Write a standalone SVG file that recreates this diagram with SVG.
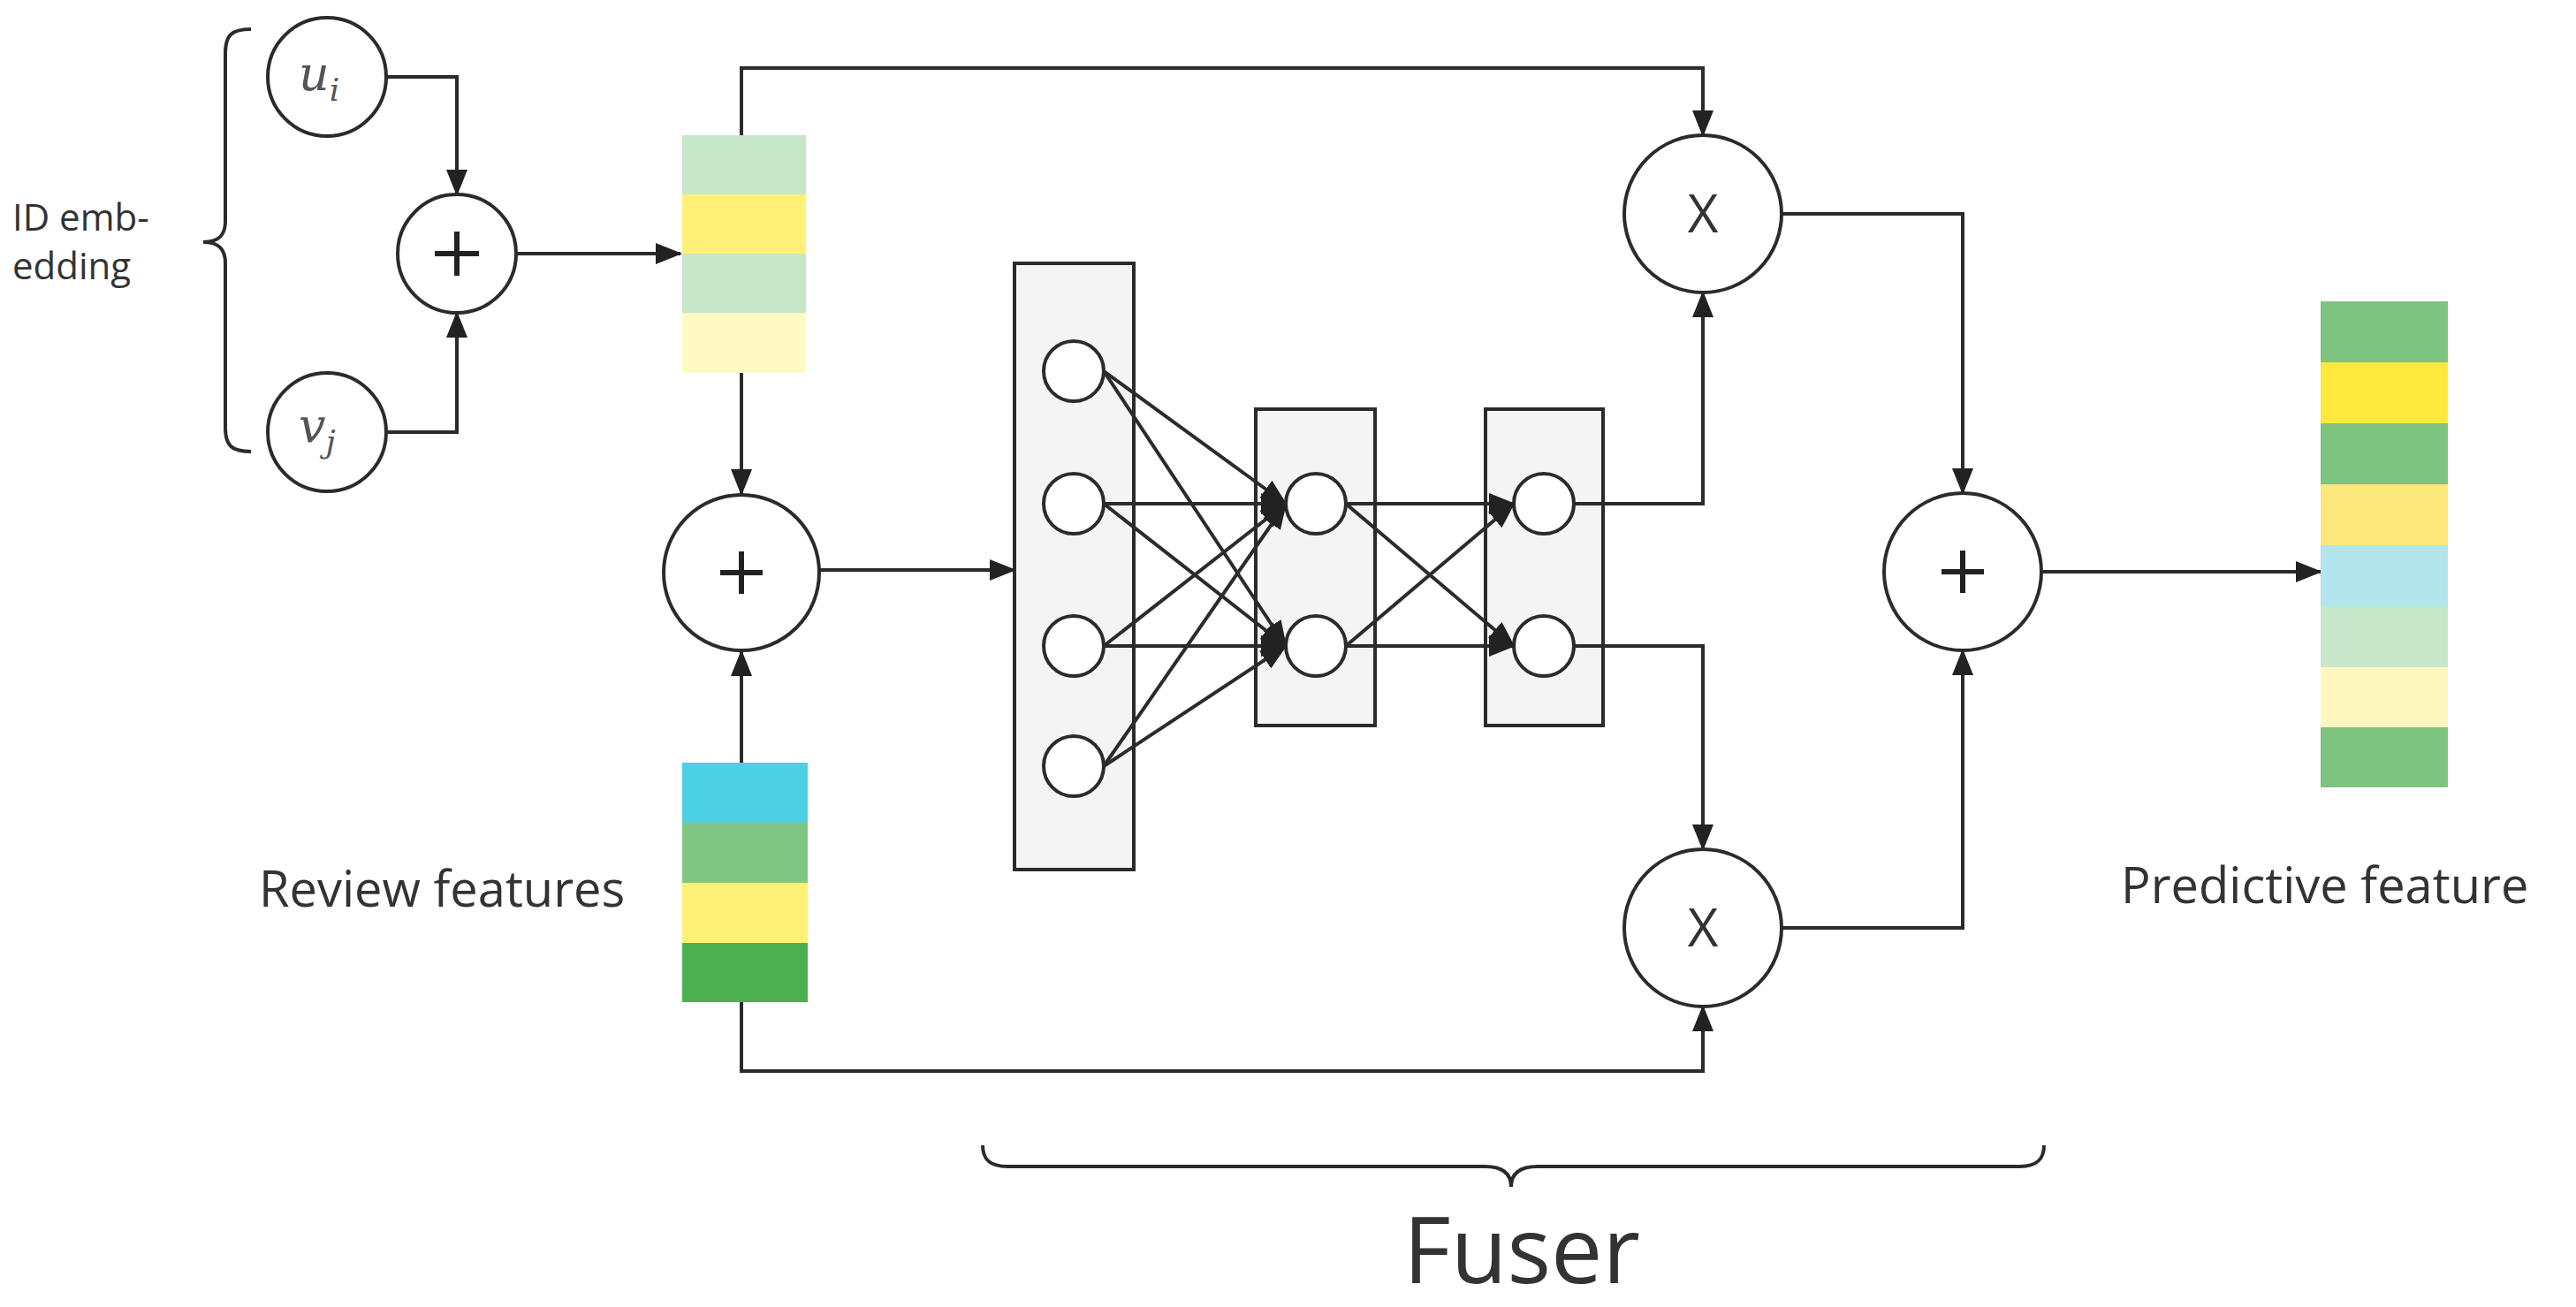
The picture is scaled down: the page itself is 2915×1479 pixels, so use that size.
<svg xmlns="http://www.w3.org/2000/svg" width="2915" height="1479" viewBox="0 0 2915 1479">
<style>
.n{fill:#fff;stroke:#2b2b2b;stroke-width:4}
.box{fill:#f4f4f4;stroke:#2b2b2b;stroke-width:4}
.c{fill:none;stroke:#2b2b2b;stroke-width:4}
.p{stroke:#222;stroke-width:6}
.t{font-family:"Open Sans","Noto Sans",sans-serif;fill:#333}
.m{font-family:"DejaVu Serif","Liberation Serif",serif;font-style:italic;fill:#555}
</style>
<defs>
<marker id="a" markerUnits="userSpaceOnUse" markerWidth="30" markerHeight="24" refX="28" refY="12" orient="auto"><path d="M0,0L30,12L0,24z" fill="#222"/></marker>
</defs>
<g id="layer1"><rect class="box" x="1148" y="298" width="135" height="686"/>
<circle class="n" cx="1215" cy="420" r="34"/><circle class="n" cx="1215" cy="570" r="34"/><circle class="n" cx="1215" cy="731" r="34"/><circle class="n" cx="1215" cy="867" r="34"/></g>
<g id="layer2"><rect class="box" x="1421" y="463" width="135" height="358"/>
<circle class="n" cx="1489" cy="570" r="34"/><circle class="n" cx="1489" cy="731" r="34"/></g>
<g id="layer3"><rect class="box" x="1681" y="463" width="133" height="358"/>
<circle class="n" cx="1747" cy="570" r="34"/><circle class="n" cx="1747" cy="731" r="34"/></g>
<g id="connectors" class="c">
<path d="M437,87H517V220" marker-end="url(#a)"/>
<path d="M437,489H517V354" marker-end="url(#a)"/>
<path d="M584,287H770" marker-end="url(#a)"/>
<path d="M839,153V77H1927V153" marker-end="url(#a)"/>
<path d="M839,422V559" marker-end="url(#a)"/>
<path d="M839,863V737" marker-end="url(#a)"/>
<path d="M928,645H1148" marker-end="url(#a)"/>
<path d="M839,1134V1212H1927V1139" marker-end="url(#a)"/>
<path d="M1249,420L1455,570" marker-end="url(#a)"/><path d="M1249,420L1455,731" marker-end="url(#a)"/>
<path d="M1249,570L1455,570" marker-end="url(#a)"/><path d="M1249,570L1455,731" marker-end="url(#a)"/>
<path d="M1249,731L1455,570" marker-end="url(#a)"/><path d="M1249,731L1455,731" marker-end="url(#a)"/>
<path d="M1249,867L1455,570" marker-end="url(#a)"/><path d="M1249,867L1455,731" marker-end="url(#a)"/>
<path d="M1523,570L1713,570" marker-end="url(#a)"/><path d="M1523,570L1713,731" marker-end="url(#a)"/>
<path d="M1523,731L1713,570" marker-end="url(#a)"/><path d="M1523,731L1713,731" marker-end="url(#a)"/>
<path d="M1781,570H1927V331" marker-end="url(#a)"/>
<path d="M1781,731H1927V961" marker-end="url(#a)"/>
<path d="M2016,242H2221V558" marker-end="url(#a)"/>
<path d="M2016,1050H2221V736" marker-end="url(#a)"/>
<path d="M2310,647H2626" marker-end="url(#a)"/>
</g>
<g id="brace-id" class="c"><path d="M284,33C262,33 255,40 255,60V250C255,266 248,274 230,274C248,274 255,282 255,298V484C255,504 262,511 284,511"/></g>
<g id="label-id"><text class="t" x="14" y="261" font-size="42">ID emb-</text><text class="t" x="14" y="316" font-size="42">edding</text></g>
<g id="ui"><circle class="n" cx="370" cy="87" r="67"/><text class="m" x="338" y="102" font-size="54">u<tspan font-size="36" dy="12">i</tspan></text></g>
<g id="vj"><circle class="n" cx="370" cy="489" r="67"/><text class="m" x="338" y="500" font-size="54">v<tspan font-size="36" dy="12">j</tspan></text></g>
<g id="plus1"><circle class="n" cx="517" cy="287" r="67"/><path class="p" d="M492,287H542M517,262V312"/></g>
<g id="vec-id">
<rect x="772" y="153" width="140" height="68" fill="#c8e6c9"/><rect x="772" y="220" width="140" height="68" fill="#fff176"/><rect x="772" y="287" width="140" height="68" fill="#c8e6c9"/><rect x="772" y="354" width="140" height="68" fill="#fff9c4"/></g>
<g id="plus2"><circle class="n" cx="839" cy="648" r="88"/><path class="p" d="M815,648H863M839,624V672"/></g>
<g id="vec-review">
<rect x="772" y="863" width="142" height="68" fill="#4dd0e1"/><rect x="772" y="931" width="142" height="68" fill="#81c784"/><rect x="772" y="999" width="142" height="68" fill="#fff176"/><rect x="772" y="1067" width="142" height="67" fill="#4caf50"/></g>
<g id="label-review"><text class="t" x="293" y="1026" font-size="56">Review features</text></g>
<g id="mul1"><circle class="n" cx="1927" cy="242" r="89"/><text class="t" x="1927" y="263" font-size="60" text-anchor="middle">X</text></g>
<g id="mul2"><circle class="n" cx="1927" cy="1050" r="89"/><text class="t" x="1927" y="1071" font-size="60" text-anchor="middle">X</text></g>
<g id="plus3"><circle class="n" cx="2221" cy="647" r="89"/><path class="p" d="M2197,647H2245M2221,623V671"/></g>
<g id="vec-out">
<rect x="2626" y="341" width="144" height="69" fill="#7dc47f"/><rect x="2626" y="410" width="144" height="69" fill="#fde93c"/><rect x="2626" y="479" width="144" height="69" fill="#7dc47f"/><rect x="2626" y="548" width="144" height="69" fill="#fce77a"/><rect x="2626" y="617" width="144" height="69" fill="#b3e5ec"/><rect x="2626" y="686" width="144" height="69" fill="#c8e6c9"/><rect x="2626" y="755" width="144" height="68" fill="#fff7c0"/><rect x="2626" y="823" width="144" height="68" fill="#7dc47f"/></g>
<g id="label-pred"><text class="t" x="2400" y="1022" font-size="56">Predictive feature</text></g>
<g id="brace-fuser" class="c"><path d="M1112,1296C1112,1312 1120,1320 1140,1320H1680C1700,1320 1710,1328 1710,1343C1710,1328 1720,1320 1740,1320H2285C2305,1320 2313,1312 2313,1296"/></g>
<g id="label-fuser"><text class="t" x="1722" y="1452" font-size="104" text-anchor="middle">Fuser</text></g>
</svg>
